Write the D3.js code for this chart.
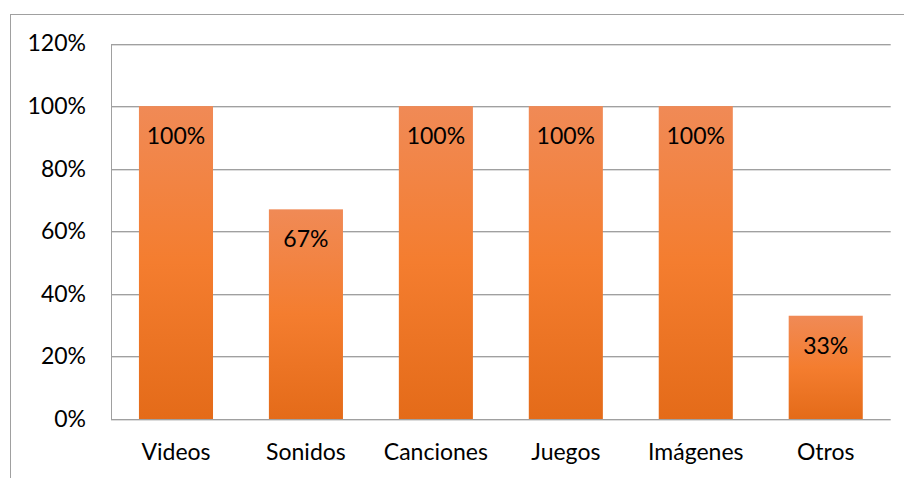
<!DOCTYPE html>
<html><head><meta charset="utf-8">
<script src="https://cdn.jsdelivr.net/npm/d3@7"></script>
<style>body{margin:0;background:#fff}svg{display:block}text{font-family:Lato,"Open Sans",sans-serif;fill:#000}</style>
</head><body><svg id="c" width="904" height="478"></svg>
<script>
const categories = ["Videos","Sonidos","Canciones","Juegos","Imágenes","Otros"];
const values = [1.00, 0.67, 1.00, 1.00, 1.00, 0.33];
const yTicks = [0, 0.2, 0.4, 0.6, 0.8, 1.0, 1.2];

const svg = d3.select("#c");
const W = 904, H = 478;
const m = {left:111, right:890.7, top:43.5, bottom:419};

const defs = svg.append("defs");
const g = defs.append("linearGradient").attr("id","bg").attr("x1",0).attr("x2",0).attr("y1",0).attr("y2",1);
g.append("stop").attr("offset","0%").attr("stop-color","#F08A56");
g.append("stop").attr("offset","50%").attr("stop-color","#F47D2F");
g.append("stop").attr("offset","100%").attr("stop-color","#E46B19");

// outer frame
svg.append("rect").attr("x",10.5).attr("y",14.5).attr("width",W).attr("height",H)
  .attr("fill","none").attr("stroke","#a0a0a0").attr("stroke-width",1);

const x = d3.scaleBand().domain(categories).range([m.left, m.right]).paddingInner(0.43).paddingOuter(0.215);
const y = d3.scaleLinear().domain([0,1.2]).range([m.bottom, m.top]);

// gridlines
const grid = svg.append("g");
yTicks.forEach(t => {
  const yy = Math.round(y(t)) + 0.5;
  grid.append("line").attr("x1",m.left).attr("x2",m.right).attr("y1",yy).attr("y2",yy).attr("stroke","#a0a0a0");
  grid.append("line").attr("x1",m.left).attr("x2",m.right).attr("y1",yy+1).attr("y2",yy+1).attr("stroke","#dcdcdc");
});
svg.append("line").attr("x1",m.left+0.5).attr("x2",m.left+0.5).attr("y1",Math.round(y(1.2))).attr("y2",Math.round(y(0))+1).attr("stroke","#a0a0a0");

// y axis labels
const yAxis = d3.axisLeft(y).tickValues(yTicks).tickFormat(d3.format(".0%")).tickSize(0).tickPadding(25);
const ya = svg.append("g").attr("transform",`translate(${m.left},0)`).call(yAxis);
ya.select(".domain").remove();
ya.selectAll("text").style("font-size","23px").style("font-family","Lato").attr("fill","#000");

// x axis labels
const xAxis = d3.axisBottom(x).tickSize(0).tickPadding(25);
const xa = svg.append("g").attr("transform",`translate(0,${m.bottom})`).call(xAxis);
xa.select(".domain").remove();
xa.selectAll("text").style("font-size","23px").style("font-family","Lato").attr("fill","#000");

// bars
svg.append("g").selectAll("rect").data(values).join("rect")
  .attr("x",(d,i)=>x(categories[i])).attr("width",x.bandwidth())
  .attr("y",d=>y(d)).attr("height",d=>y(0)-y(d)).attr("fill","url(#bg)");

// labels
svg.append("g").selectAll("text").data(values).join("text")
  .attr("x",(d,i)=>x(categories[i])+x.bandwidth()/2)
  .attr("y",d=>y(d)+30).attr("dy","0.35em").attr("text-anchor","middle")
  .style("font-size","23px").text(d=>d3.format(".0%")(d));
</script></body></html>
